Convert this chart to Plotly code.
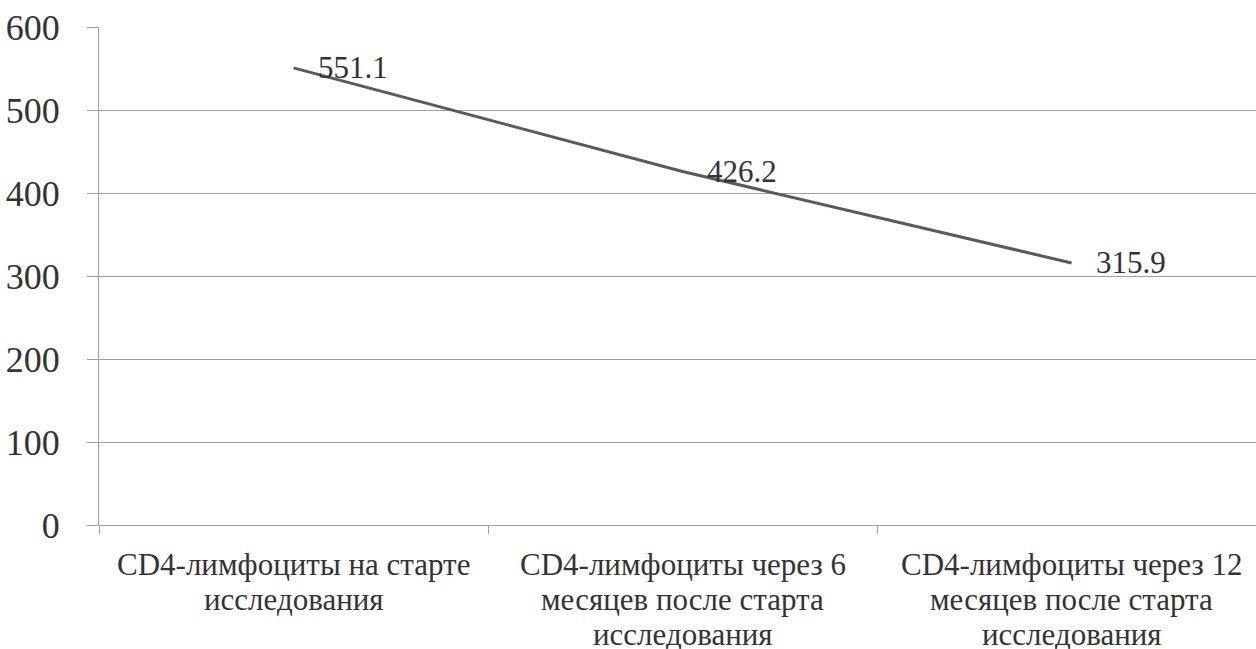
import plotly.graph_objects as go

# CD4 lymphocyte counts at three time points
categories = [
    "CD4-лимфоциты на старте исследования",
    "CD4-лимфоциты через 6 месяцев после старта исследования",
    "CD4-лимфоциты через 12 месяцев после старта исследования",
]
category_lines = [
    ["CD4-лимфоциты на старте", "исследования"],
    ["CD4-лимфоциты через 6", "месяцев после старта", "исследования"],
    ["CD4-лимфоциты через 12", "месяцев после старта", "исследования"],
]
values = [551.1, 426.2, 315.9]
y_ticks = [0, 100, 200, 300, 400, 500, 600]

FONT = "Liberation Serif"
TEXT = "#333333"
GRID = "#a0a0a0"

fig = go.Figure()
fig.add_trace(go.Scatter(
    x=categories, y=values, mode="lines",
    line=dict(color="#5a5a5a", width=3),
    hoverinfo="skip", showlegend=False,
))

annotations = []
# value labels to the right of each point
for cat, v in zip(categories, values):
    annotations.append(dict(
        x=cat, y=v, xref="x", yref="y", text=f"{v:.1f}",
        showarrow=False, xanchor="left", yanchor="middle", xshift=22,
        font=dict(family=FONT, size=31, color=TEXT),
    ))
# multi-line category labels under the axis
for cat, lines in zip(categories, category_lines):
    for i, line in enumerate(lines):
        annotations.append(dict(
            x=cat, y=0, xref="x", yref="paper", text=line,
            showarrow=False, xanchor="center", yanchor="middle",
            yshift=-(39 + 35 * i),
            font=dict(family=FONT, size=31, color=TEXT),
        ))

fig.update_layout(
    width=1256, height=649,
    margin=dict(l=99, r=0, t=27, b=124),
    paper_bgcolor="white", plot_bgcolor="white",
    annotations=annotations,
    xaxis=dict(
        type="category", range=[-0.5, 2.474],
        showticklabels=False, showgrid=False,
        showline=True, linecolor=GRID, linewidth=1,
        ticks="outside", tickson="boundaries", ticklen=8,
        tickcolor=GRID, tickwidth=1, zeroline=False,
    ),
    yaxis=dict(
        range=[0, 600.4], tickvals=y_ticks, ticktext=[str(t) for t in y_ticks],
        showgrid=True, gridcolor=GRID, gridwidth=1,
        showline=True, linecolor=GRID, linewidth=1,
        ticks="outside", ticklen=11, tickcolor=GRID, tickwidth=1,
        ticklabelstandoff=20, zeroline=False,
        tickfont=dict(family=FONT, size=36, color=TEXT),
    ),
)

fig.write_html("out.html")
